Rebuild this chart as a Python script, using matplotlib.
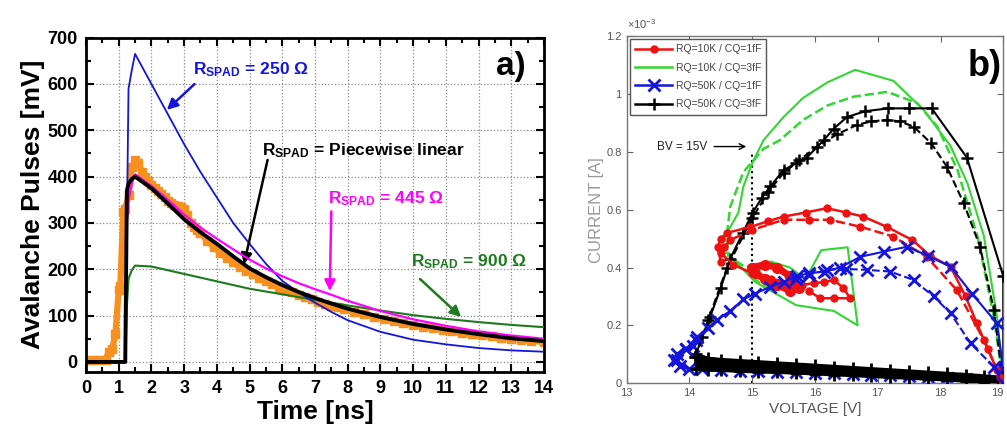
import matplotlib.pyplot as plt
from matplotlib.lines import Line2D
from matplotlib.ticker import MultipleLocator

plt.rcParams['font.family'] = ['Liberation Sans', 'DejaVu Sans']
plt.rcParams['mathtext.fontset'] = 'custom'
plt.rcParams['mathtext.rm'] = 'Liberation Sans'
plt.rcParams['mathtext.bf'] = 'Liberation Sans:bold'
plt.rcParams['mathtext.it'] = 'Liberation Sans:italic'

# ---- panel a) avalanche pulses, time in ns, values in mV
t_meas = [0, 0.2, 0.4, 0.6, 0.7, 0.8, 0.9, 1.0, 1.05, 1.14, 1.2, 1.3, 1.4, 1.5, 1.6, 1.7, 1.8, 1.9,
          2.0, 2.1, 2.2, 2.3, 2.4, 2.5, 2.6, 2.7, 2.8, 2.9, 3.0, 3.1, 3.2, 3.3, 3.4, 3.5, 3.7, 3.9,
          4.1, 4.3, 4.5, 4.7, 4.9, 5.1, 5.3, 5.5, 5.7, 5.9, 6.1, 6.3, 6.5, 6.7, 6.9, 7.1, 7.3, 7.5,
          7.7, 7.9, 8.2, 8.5, 8.8, 9.1, 9.4, 9.7, 10.0, 10.3, 10.6, 10.9, 11.2, 11.5, 11.8, 12.1,
          12.4, 12.7, 13.0, 13.3, 13.6, 14.0]
v_meas = [5, 5, 5, 5, 22, 28, 60, 155, 165, 324, 330, 360, 420, 435, 430, 410, 400, 390,
          382, 375, 368, 362, 355, 348, 343, 338, 336, 334, 330, 318, 300, 292, 285, 278, 262, 248,
          236, 225, 215, 205, 196, 190, 182, 175, 168, 160, 155, 150, 145, 140, 135, 130, 126, 121,
          118, 114, 108, 103, 98, 93, 88, 84, 80, 76, 73, 70, 66, 63, 60, 58,
          55, 52, 50, 48, 46, 43]

t_sim = [0, 1.2, 1.25, 1.3, 1.4, 1.5, 2.0, 2.5, 3.0, 3.5, 4.0, 4.5, 5.0, 5.5, 6.0, 6.5, 7.0,
         7.5, 8.0, 9.0, 10.0, 11.0, 12.0, 13.0, 14.0]
v_pwl = [0, 0, 370, 385, 395, 400, 375, 342, 308, 280, 255, 228, 202, 183, 166, 151, 138,
         126, 115, 97, 82, 70, 60, 51, 45]
v_250 = [0, 0, 300, 590, 630, 665, 600, 535, 470, 410, 355, 300, 255, 212, 175, 150, 128,
         108, 90, 65, 48, 38, 30, 25, 22]
v_445 = [0, 0, 300, 350, 385, 405, 380, 350, 318, 290, 266, 243, 221, 202, 185, 170, 157,
         145, 132, 110, 92, 78, 66, 57, 50]
v_900 = [0, 0, 120, 180, 198, 208, 206, 198, 190, 182, 174, 166, 158, 152, 146, 140, 134,
         128, 122, 111, 101, 93, 86, 80, 75]

# ---- panel b) I-V trajectories, current in 1e-3 A
red_s_v = [14.5, 14.45, 14.5, 14.6, 14.97, 15.25, 15.5, 15.85, 16.19, 16.5, 16.77, 17.15, 17.55,
           17.84, 18.16, 18.4, 18.58, 18.75, 18.9, 19.0]
red_s_i = [0.42, 0.47, 0.5, 0.52, 0.54, 0.56, 0.576, 0.59, 0.605, 0.59, 0.576, 0.54, 0.495,
           0.44, 0.403, 0.3, 0.207, 0.12, 0.046, 0.0]
red_in_v = [14.5, 14.7, 15.0, 15.3, 15.6, 15.8, 15.98, 16.15, 16.3, 16.45, 16.56, 16.3, 16.08, 15.9]
red_in_i = [0.45, 0.41, 0.38, 0.36, 0.35, 0.34, 0.346, 0.35, 0.357, 0.33, 0.294, 0.294, 0.294, 0.32]
red_cl_v = [15.0, 15.2, 15.4, 15.6, 15.75, 15.6, 15.4, 15.2, 15.05, 15.0]
red_cl_i = [0.40, 0.41, 0.40, 0.37, 0.33, 0.32, 0.34, 0.36, 0.38, 0.40]
red_d_v = [14.55, 14.65, 15.0, 15.5, 15.9, 16.24, 16.72, 17.25, 17.78, 18.26, 18.69, 18.95, 19.0]
red_d_i = [0.47, 0.495, 0.53, 0.565, 0.565, 0.565, 0.541, 0.507, 0.437, 0.322, 0.15, 0.023, 0.0]

green_s_v = [14.55, 14.78, 14.86, 15.0, 15.18, 15.5, 15.81, 16.2, 16.64, 17.25, 17.73, 18.16,
             18.43, 18.69, 18.9, 19.0]
green_s_i = [0.5, 0.59, 0.68, 0.76, 0.84, 0.92, 0.986, 1.04, 1.083, 1.045, 0.945, 0.82,
             0.69, 0.51, 0.23, 0.0]
green_in_v = [14.6, 15.05, 15.7, 16.3, 16.68, 16.52, 16.1, 15.85, 15.6, 15.3, 15.1, 15.2, 15.5, 15.6]
green_in_i = [0.45, 0.35, 0.27, 0.25, 0.20, 0.47, 0.46, 0.36, 0.40, 0.42, 0.39, 0.34, 0.33, 0.36]
green_d_v = [15.5, 15.3, 15.1, 15.05, 15.2, 15.45, 15.55, 15.3, 14.9, 14.62, 14.6, 14.65, 14.86,
             15.18, 15.44, 15.81, 16.2, 16.61, 17.15, 17.63, 17.95, 18.27, 18.59, 18.85, 19.0]
green_d_i = [0.38, 0.42, 0.40, 0.36, 0.33, 0.34, 0.37, 0.42, 0.40, 0.44, 0.52, 0.61, 0.73,
             0.81, 0.84, 0.91, 0.96, 0.99, 1.007, 0.968, 0.887, 0.737, 0.507, 0.23, 0.0]

black_s_v = [14.09, 14.2, 14.33, 14.5, 14.65, 14.85, 15.01, 15.15, 15.29, 15.5, 15.7, 15.87,
             16.14, 16.3, 16.51, 16.8, 17.17, 17.5, 17.86, 18.42, 19.0, 19.0]
black_s_i = [0.09, 0.16, 0.23, 0.33, 0.43, 0.52, 0.59, 0.64, 0.68, 0.737, 0.76, 0.78,
             0.84, 0.88, 0.92, 0.94, 0.95, 0.95, 0.95, 0.78, 0.37, 0.04]
black_d_v = [14.09, 14.3, 14.6, 15.0, 15.25, 15.5, 15.75, 16.03, 16.35, 16.67, 16.9, 17.15,
             17.35, 17.57, 17.85, 18.1, 18.37, 18.63, 18.85, 19.0]
black_d_i = [0.09, 0.22, 0.40, 0.57, 0.66, 0.727, 0.77, 0.818, 0.86, 0.893, 0.905, 0.91,
             0.905, 0.887, 0.83, 0.749, 0.622, 0.472, 0.253, 0.0]
black_bot_v = [19.0, 18.7, 18.4, 18.1, 17.8, 17.5, 17.2, 16.9, 16.6, 16.3, 16.0, 15.7, 15.4,
               15.1, 14.8, 14.5, 14.3, 14.1]
black_bot_hi = [0.02, 0.025, 0.03, 0.034, 0.038, 0.042, 0.046, 0.05, 0.054, 0.058, 0.062,
                0.066, 0.07, 0.074, 0.078, 0.082, 0.086, 0.10]
black_bot_lo = [0.0, 0.004, 0.008, 0.012, 0.015, 0.018, 0.021, 0.024, 0.027, 0.03, 0.033,
                0.036, 0.038, 0.04, 0.042, 0.045, 0.047, 0.05]

blue_s_v = [13.8, 13.95, 14.12, 14.3, 14.44, 14.65, 14.86, 15.05, 15.29, 15.5, 15.71, 15.9,
            16.14, 16.4, 16.72, 17.1, 17.47, 17.8, 18.16, 18.5, 18.9, 19.0]
blue_s_i = [0.08, 0.12, 0.16, 0.19, 0.22, 0.25, 0.29, 0.31, 0.334, 0.35, 0.37, 0.38,
            0.386, 0.40, 0.437, 0.455, 0.472, 0.44, 0.403, 0.31, 0.207, 0.05]
blue_d_v = [15.7, 15.9, 16.19, 16.5, 16.83, 17.2, 17.57, 17.89, 18.16, 18.48, 18.85, 19.0]
blue_d_i = [0.36, 0.375, 0.392, 0.395, 0.392, 0.386, 0.357, 0.30, 0.242, 0.138, 0.057, 0.0]
blue_bot_v = [19.0, 18.7, 18.4, 18.1, 17.8, 17.5, 17.2, 16.9, 16.6, 16.3, 16.0, 15.7, 15.4,
              15.1, 14.8, 14.5, 14.2, 14.0, 13.85, 13.75, 13.8, 13.95, 14.05, 14.1]
blue_bot_i = [0.005, 0.01, 0.015, 0.02, 0.022, 0.025, 0.028, 0.03, 0.032, 0.035, 0.036, 0.038,
              0.04, 0.042, 0.044, 0.046, 0.05, 0.05, 0.06, 0.08, 0.1, 0.12, 0.13, 0.15]

legend_labels = ['RQ=10K / CQ=1fF', 'RQ=10K / CQ=3fF', 'RQ=50K / CQ=1fF', 'RQ=50K / CQ=3fF']

RED = '#EE1111'
GREEN = '#33D633'
BLUE = '#1414DC'
ORANGE = '#F7901E'

fig = plt.figure(figsize=(10.07, 4.30), dpi=100)

# ================= a)
ax = fig.add_axes([0.0854, 0.135, 0.4548, 0.7774])
ax.plot(t_meas, v_meas, color=ORANGE, lw=4.5, marker='s', ms=6, zorder=2)
ax.plot(t_sim, v_900, color='#1E7A1E', lw=1.5, zorder=3)
ax.plot(t_sim, v_250, color=BLUE, lw=1.3, zorder=3)
ax.plot(t_sim, v_445, color='#FF00FF', lw=1.6, zorder=4)
ax.plot(t_sim, v_pwl, color='black', lw=2.8, zorder=5)

ax.set_xlim(0, 14)
ax.set_ylim(-21.6, 700)
ax.xaxis.set_major_locator(MultipleLocator(1))
ax.xaxis.set_minor_locator(MultipleLocator(0.5))
ax.yaxis.set_major_locator(MultipleLocator(100))
ax.yaxis.set_minor_locator(MultipleLocator(50))
ax.tick_params(which='both', direction='in', top=True, right=True, width=1.5)
ax.tick_params(which='major', length=6, labelsize=13, pad=6)
ax.tick_params(which='minor', length=3.5)
for lab in ax.get_xticklabels() + ax.get_yticklabels():
    lab.set_fontweight('bold')
for s in ax.spines.values():
    s.set_linewidth(2)
ax.grid(True, which='major', ls=':', color='#888888', lw=0.9)
ax.set_xlabel('Time [ns]', fontsize=19, fontweight='bold', labelpad=2)
ax.set_ylabel('Avalanche Pulses [mV]', fontsize=19, fontweight='bold', labelpad=2)

# labels + arrows
ax.text(3.28, 630, r'$\mathbf{R_{SPAD}}$ = 250 Ω', color=BLUE, fontsize=12.5,
        fontweight='bold', va='center')
ax.annotate('', xy=(2.41, 540), xytext=(3.38, 604),
            arrowprops=dict(arrowstyle='-|>', color=BLUE, lw=1.8, mutation_scale=16))
ax.text(5.37, 457, r'$\mathbf{R_{SPAD}}$ = Piecewise linear', color='black', fontsize=12.5,
        fontweight='bold', va='center')
ax.annotate('', xy=(4.81, 205), xytext=(5.57, 442),
            arrowprops=dict(arrowstyle='-|>', color='black', lw=1.8, mutation_scale=16))
ax.text(7.4, 352, r'$\mathbf{R_{SPAD}}$ = 445 Ω', color='#FF00FF', fontsize=12.5,
        fontweight='bold', va='center')
ax.annotate('', xy=(7.45, 147), xytext=(7.5, 331),
            arrowprops=dict(arrowstyle='-|>', color='#FF00FF', lw=1.8, mutation_scale=16))
ax.text(9.95, 216, r'$\mathbf{R_{SPAD}}$ = 900 Ω', color='#1E7A1E', fontsize=12.5,
        fontweight='bold', va='center')
ax.annotate('', xy=(11.53, 93), xytext=(10.15, 183),
            arrowprops=dict(arrowstyle='-|>', color='#1E7A1E', lw=1.8, mutation_scale=16))
ax.text(13.0, 638, 'a)', fontsize=24, fontweight='bold', ha='center', va='center')

# ================= b)
bx = fig.add_axes([0.6223, 0.1086, 0.374, 0.8077])
# the dense bands along the bottom
bx.plot(blue_bot_v, blue_bot_i, color=BLUE, lw=2.5, marker='x', ms=8, mew=2, zorder=2)
bx.fill_between(black_bot_v, black_bot_lo, black_bot_hi, color='black', lw=0, zorder=3)
bx.plot(black_bot_v, black_bot_hi, color='black', lw=2.5, marker='+', ms=8, mew=2, zorder=3)
bx.plot(black_bot_v, black_bot_lo, color='black', lw=2.5, marker='+', ms=8, mew=2, zorder=3)

bx.plot(green_s_v, green_s_i, color=GREEN, lw=1.5, zorder=4)
bx.plot(green_in_v, green_in_i, color=GREEN, lw=1.5, zorder=4)
bx.plot(green_d_v, green_d_i, color=GREEN, lw=1.8, ls='--', zorder=4)

bx.plot(black_s_v, black_s_i, color='black', lw=1.5, marker='+', ms=9, mew=1.8, zorder=5)
bx.plot(black_d_v, black_d_i, color='black', lw=1.5, ls='--', marker='+', ms=9, mew=1.8, zorder=5)

bx.plot(red_s_v, red_s_i, color=RED, lw=1.8, marker='o', ms=5, zorder=6)
bx.plot(red_in_v, red_in_i, color=RED, lw=1.8, marker='o', ms=5, zorder=6)
bx.plot(red_cl_v, red_cl_i, color=RED, lw=5, marker='o', ms=7, zorder=6)
bx.plot(red_d_v, red_d_i, color=RED, lw=1.8, ls='--', marker='o', ms=5, zorder=6)

bx.plot(blue_s_v, blue_s_i, color=BLUE, lw=1.5, marker='x', ms=8, mew=2, zorder=7)
bx.plot(blue_d_v, blue_d_i, color=BLUE, lw=1.5, ls='--', marker='x', ms=8, mew=2, zorder=7)

# breakdown voltage marker
bx.plot([15, 15], [0, 0.8], color='black', ls=':', lw=1.5, zorder=1)
bx.text(13.48, 0.818, 'BV = 15V', fontsize=8.5, va='center', color='#222222')
bx.annotate('', xy=(14.95, 0.818), xytext=(14.35, 0.818),
            arrowprops=dict(arrowstyle='->', color='black', lw=1))
bx.text(18.71, 1.093, 'b)', fontsize=26, fontweight='bold', ha='center', va='center')

bx.set_xlim(13, 19)
bx.set_ylim(0, 1.2)
bx.set_xticks([13, 14, 15, 16, 17, 18, 19])
bx.set_yticks([0, 0.2, 0.4, 0.6, 0.8, 1.0, 1.2])
bx.set_yticklabels(['0', '0.2', '0.4', '0.6', '0.8', '1', '1.2'])
bx.tick_params(direction='in', top=True, right=True, length=4, width=0.8,
               colors='#666666', labelcolor='#555555', labelsize=8)
# last x label sits on the figure edge, keep it inside
bx.get_xticklabels()[-1].set_horizontalalignment('right')
for s in bx.spines.values():
    s.set_color('#777777')
    s.set_linewidth(1)
bx.set_xlabel('VOLTAGE [V]', fontsize=11, color='#555555', labelpad=3)
bx.set_ylabel('CURRENT [A]', fontsize=12, color='#999999', labelpad=2)
bx.text(0.0, 1.02, '×10$^{-3}$', transform=bx.transAxes, fontsize=8, color='#555555')

handles = [Line2D([], [], color=RED, lw=1.8, marker='o', ms=5),
           Line2D([], [], color=GREEN, lw=1.8),
           Line2D([], [], color=BLUE, lw=1.8, marker='x', ms=8, mew=2),
           Line2D([], [], color='black', lw=1.8, marker='+', ms=9, mew=1.8)]
leg = bx.legend(handles, legend_labels, loc='upper left', fontsize=7.5, handlelength=3.6,
                frameon=True, fancybox=False, framealpha=1, borderaxespad=0.3,
                labelspacing=0.8, handletextpad=0.3, borderpad=0.5)
leg.get_frame().set_edgecolor('#555555')
leg.get_frame().set_linewidth(1)
for txt in leg.get_texts():
    txt.set_color('#444444')

fig.savefig('out.png', dpi=100)
